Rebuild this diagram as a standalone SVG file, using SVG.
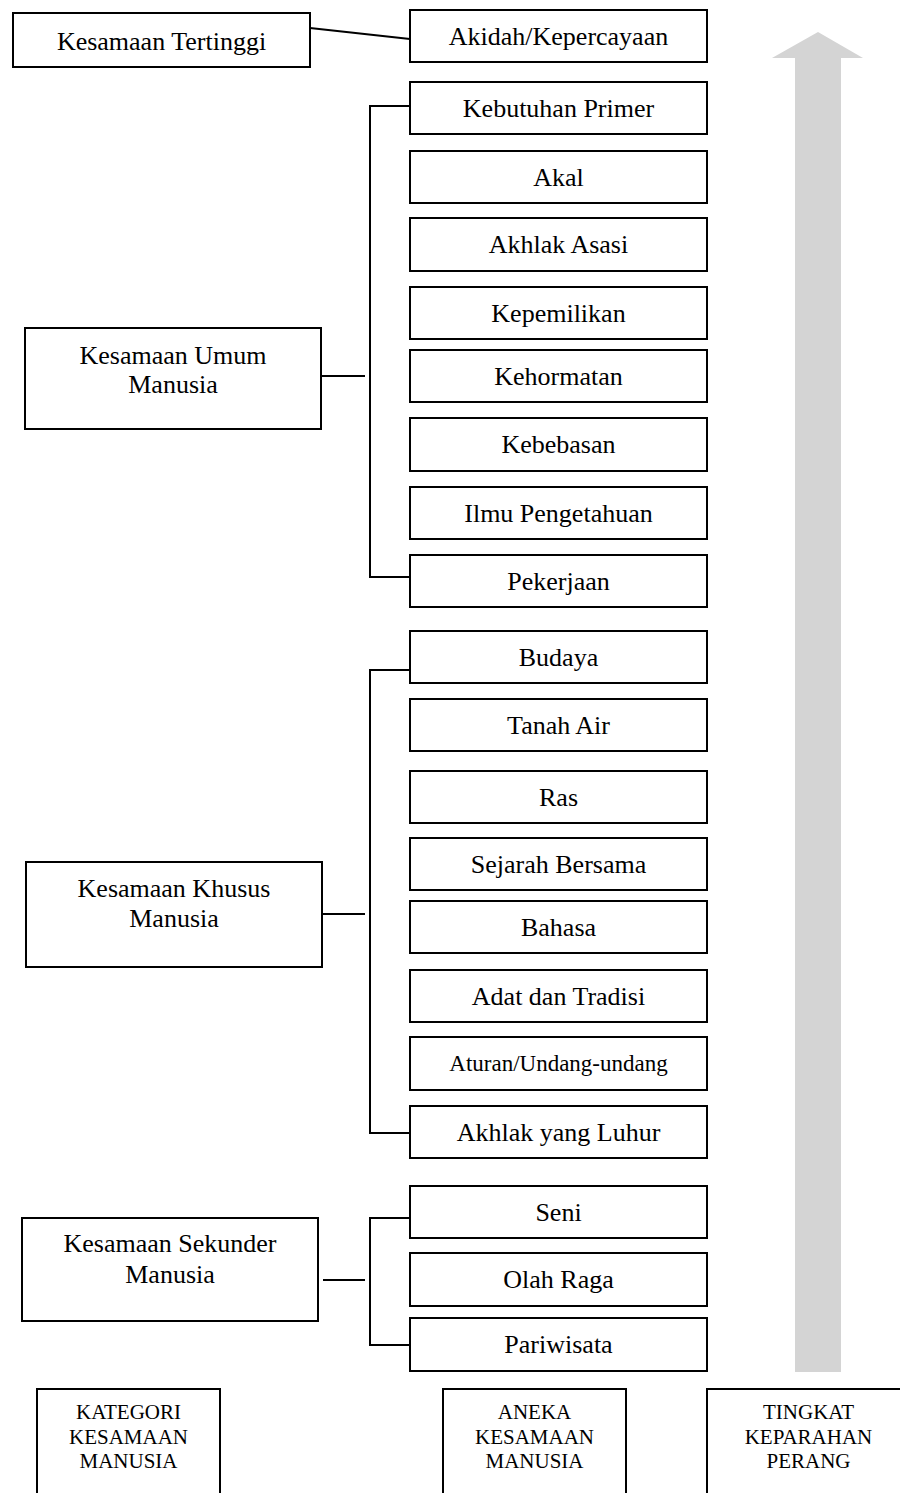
<svg xmlns="http://www.w3.org/2000/svg" width="900" height="1493" viewBox="0 0 900 1493">
<style>
.b{fill:#fff;stroke:#000;stroke-width:2}
.t{font-family:"Liberation Serif","Times New Roman",serif;font-size:26px;fill:#000;text-anchor:middle}
.s{font-size:23px}
.c{font-family:"Liberation Serif","Times New Roman",serif;font-size:21px;fill:#000;text-anchor:middle}
.l{stroke:#000;stroke-width:2;fill:none}
</style>
<rect width="900" height="1493" fill="#fff"/>
<g id="arrow"><polygon points="795,1372 795,58 772,58 818,32 863,58 841,58 841,1372" fill="#d4d4d4"/></g>
<g id="connectors">
<line class="l" x1="310" y1="28" x2="410" y2="39"/>
<polyline class="l" points="413,106 370,106 370,577 410,577"/>
<line class="l" x1="322" y1="376" x2="365" y2="376"/>
<polyline class="l" points="410,670 370,670 370,1133 410,1133"/>
<line class="l" x1="322" y1="914" x2="365" y2="914"/>
<polyline class="l" points="413,1218 370,1218 370,1345 411,1345"/>
<line class="l" x1="323" y1="1280" x2="365" y2="1280"/>
</g>
<g id="n-tertinggi"><rect class="b" x="13" y="13" width="297" height="54"/><text class="t" x="161.5" y="50">Kesamaan Tertinggi</text></g>
<g id="n-umum"><rect class="b" x="25" y="328" width="296" height="101"/><text class="t" x="173" y="364">Kesamaan Umum</text><text class="t" x="173" y="393">Manusia</text></g>
<g id="n-khusus"><rect class="b" x="26" y="862" width="296" height="105"/><text class="t" x="174" y="897">Kesamaan Khusus</text><text class="t" x="174" y="927">Manusia</text></g>
<g id="n-sekunder"><rect class="b" x="22" y="1218" width="296" height="103"/><text class="t" x="170" y="1252">Kesamaan Sekunder</text><text class="t" x="170" y="1283">Manusia</text></g>
<g id="n-akidah"><rect class="b" x="410" y="10" width="297" height="52"/><text class="t" x="558.5" y="45">Akidah/Kepercayaan</text></g>
<g id="n-primer"><rect class="b" x="410" y="82" width="297" height="52"/><text class="t" x="558.5" y="117">Kebutuhan Primer</text></g>
<g id="n-akal"><rect class="b" x="410" y="151" width="297" height="52"/><text class="t" x="558.5" y="186">Akal</text></g>
<g id="n-akhlakasasi"><rect class="b" x="410" y="218" width="297" height="53"/><text class="t" x="558.5" y="253">Akhlak Asasi</text></g>
<g id="n-kepemilikan"><rect class="b" x="410" y="287" width="297" height="52"/><text class="t" x="558.5" y="322">Kepemilikan</text></g>
<g id="n-kehormatan"><rect class="b" x="410" y="350" width="297" height="52"/><text class="t" x="558.5" y="385">Kehormatan</text></g>
<g id="n-kebebasan"><rect class="b" x="410" y="418" width="297" height="53"/><text class="t" x="558.5" y="453">Kebebasan</text></g>
<g id="n-ilmu"><rect class="b" x="410" y="487" width="297" height="52"/><text class="t" x="558.5" y="522">Ilmu Pengetahuan</text></g>
<g id="n-pekerjaan"><rect class="b" x="410" y="555" width="297" height="52"/><text class="t" x="558.5" y="590">Pekerjaan</text></g>
<g id="n-budaya"><rect class="b" x="410" y="631" width="297" height="52"/><text class="t" x="558.5" y="666">Budaya</text></g>
<g id="n-tanahair"><rect class="b" x="410" y="699" width="297" height="52"/><text class="t" x="558.5" y="734">Tanah Air</text></g>
<g id="n-ras"><rect class="b" x="410" y="771" width="297" height="52"/><text class="t" x="558.5" y="806">Ras</text></g>
<g id="n-sejarah"><rect class="b" x="410" y="838" width="297" height="52"/><text class="t" x="558.5" y="873">Sejarah Bersama</text></g>
<g id="n-bahasa"><rect class="b" x="410" y="901" width="297" height="52"/><text class="t" x="558.5" y="936">Bahasa</text></g>
<g id="n-adat"><rect class="b" x="410" y="970" width="297" height="52"/><text class="t" x="558.5" y="1005">Adat dan Tradisi</text></g>
<g id="n-aturan"><rect class="b" x="410" y="1037" width="297" height="53"/><text class="t s" x="558.5" y="1071">Aturan/Undang-undang</text></g>
<g id="n-akhlakluhur"><rect class="b" x="410" y="1106" width="297" height="52"/><text class="t" x="558.5" y="1141">Akhlak yang Luhur</text></g>
<g id="n-seni"><rect class="b" x="410" y="1186" width="297" height="52"/><text class="t" x="558.5" y="1221">Seni</text></g>
<g id="n-olahraga"><rect class="b" x="410" y="1253" width="297" height="53"/><text class="t" x="558.5" y="1288">Olah Raga</text></g>
<g id="n-pariwisata"><rect class="b" x="410" y="1318" width="297" height="53"/><text class="t" x="558.5" y="1353">Pariwisata</text></g>
<g id="n-kategori"><rect class="b" x="37" y="1389" width="183" height="120"/><text class="c" x="128.5" y="1419">KATEGORI</text><text class="c" x="128.5" y="1444">KESAMAAN</text><text class="c" x="128.5" y="1468">MANUSIA</text></g>
<g id="n-aneka"><rect class="b" x="443" y="1389" width="183" height="120"/><text class="c" x="534.5" y="1419">ANEKA</text><text class="c" x="534.5" y="1444">KESAMAAN</text><text class="c" x="534.5" y="1468">MANUSIA</text></g>
<g id="n-tingkat"><rect class="b" x="707" y="1389" width="203" height="120"/><text class="c" x="808.5" y="1419">TINGKAT</text><text class="c" x="808.5" y="1444">KEPARAHAN</text><text class="c" x="808.5" y="1468">PERANG</text></g>
</svg>
